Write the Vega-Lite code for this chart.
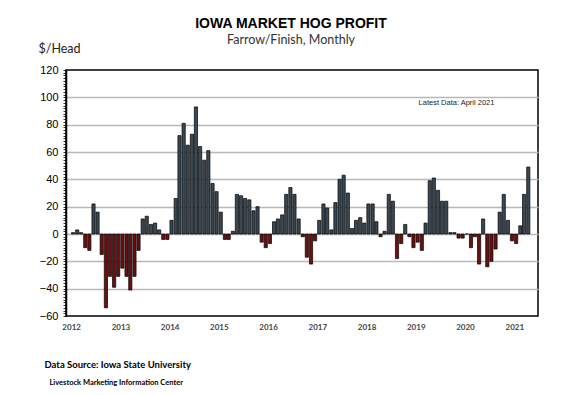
{
  "$schema": "https://vega.github.io/schema/vega-lite/v6.json",
  "width": 472,
  "height": 246,
  "autosize": "none",
  "padding": {"left": 66, "top": 70, "right": 50, "bottom": 79},
  "background": "white",
  "config": {
    "view": {"stroke": "black", "strokeWidth": 1.5},
    "font": "Liberation Sans"
  },
  "title": {
    "text": "IOWA MARKET HOG PROFIT",
    "subtitle": "Farrow/Finish, Monthly",
    "anchor": "middle",
    "dx": -11,
    "offset": -4,
    "font": "Liberation Sans",
    "fontSize": 14,
    "fontWeight": "bold",
    "color": "black",
    "subtitleFont": "Lato",
    "subtitleFontSize": 12.5,
    "subtitleColor": "#333333",
    "subtitlePadding": 3
  },
  "datasets": {
    "profit": [
      {"month": "2012-01-15", "profit": 1}, {"month": "2012-02-15", "profit": 3}, {"month": "2012-03-15", "profit": 1}, {"month": "2012-04-15", "profit": -10}, {"month": "2012-05-15", "profit": -12}, {"month": "2012-06-15", "profit": 22}, {"month": "2012-07-15", "profit": 16}, {"month": "2012-08-15", "profit": -15}, {"month": "2012-09-15", "profit": -54}, {"month": "2012-10-15", "profit": -31}, {"month": "2012-11-15", "profit": -39}, {"month": "2012-12-15", "profit": -31},
      {"month": "2013-01-15", "profit": -25}, {"month": "2013-02-15", "profit": -31}, {"month": "2013-03-15", "profit": -41}, {"month": "2013-04-15", "profit": -31}, {"month": "2013-05-15", "profit": -12}, {"month": "2013-06-15", "profit": 11}, {"month": "2013-07-15", "profit": 13}, {"month": "2013-08-15", "profit": 7}, {"month": "2013-09-15", "profit": 8}, {"month": "2013-10-15", "profit": 3}, {"month": "2013-11-15", "profit": -4}, {"month": "2013-12-15", "profit": -4},
      {"month": "2014-01-15", "profit": 10}, {"month": "2014-02-15", "profit": 26}, {"month": "2014-03-15", "profit": 72}, {"month": "2014-04-15", "profit": 81}, {"month": "2014-05-15", "profit": 65}, {"month": "2014-06-15", "profit": 73}, {"month": "2014-07-15", "profit": 93}, {"month": "2014-08-15", "profit": 64}, {"month": "2014-09-15", "profit": 54}, {"month": "2014-10-15", "profit": 61}, {"month": "2014-11-15", "profit": 37}, {"month": "2014-12-15", "profit": 31},
      {"month": "2015-01-15", "profit": 16}, {"month": "2015-02-15", "profit": -4}, {"month": "2015-03-15", "profit": -4}, {"month": "2015-04-15", "profit": 2}, {"month": "2015-05-15", "profit": 29}, {"month": "2015-06-15", "profit": 28}, {"month": "2015-07-15", "profit": 26}, {"month": "2015-08-15", "profit": 25}, {"month": "2015-09-15", "profit": 17}, {"month": "2015-10-15", "profit": 20}, {"month": "2015-11-15", "profit": -6}, {"month": "2015-12-15", "profit": -10},
      {"month": "2016-01-15", "profit": -7}, {"month": "2016-02-15", "profit": 9}, {"month": "2016-03-15", "profit": 11}, {"month": "2016-04-15", "profit": 14}, {"month": "2016-05-15", "profit": 29}, {"month": "2016-06-15", "profit": 34}, {"month": "2016-07-15", "profit": 29}, {"month": "2016-08-15", "profit": 11}, {"month": "2016-09-15", "profit": -2}, {"month": "2016-10-15", "profit": -17}, {"month": "2016-11-15", "profit": -22}, {"month": "2016-12-15", "profit": -5},
      {"month": "2017-01-15", "profit": 10}, {"month": "2017-02-15", "profit": 22}, {"month": "2017-03-15", "profit": 19}, {"month": "2017-04-15", "profit": 3}, {"month": "2017-05-15", "profit": 23}, {"month": "2017-06-15", "profit": 40}, {"month": "2017-07-15", "profit": 43}, {"month": "2017-08-15", "profit": 30}, {"month": "2017-09-15", "profit": 4}, {"month": "2017-10-15", "profit": 10}, {"month": "2017-11-15", "profit": 12}, {"month": "2017-12-15", "profit": 8},
      {"month": "2018-01-15", "profit": 22}, {"month": "2018-02-15", "profit": 22}, {"month": "2018-03-15", "profit": 9}, {"month": "2018-04-15", "profit": -2}, {"month": "2018-05-15", "profit": 2}, {"month": "2018-06-15", "profit": 29}, {"month": "2018-07-15", "profit": 24}, {"month": "2018-08-15", "profit": -18}, {"month": "2018-09-15", "profit": -7}, {"month": "2018-10-15", "profit": 7}, {"month": "2018-11-15", "profit": -2}, {"month": "2018-12-15", "profit": -10},
      {"month": "2019-01-15", "profit": -6}, {"month": "2019-02-15", "profit": -12}, {"month": "2019-03-15", "profit": 8}, {"month": "2019-04-15", "profit": 39}, {"month": "2019-05-15", "profit": 41}, {"month": "2019-06-15", "profit": 32}, {"month": "2019-07-15", "profit": 24}, {"month": "2019-08-15", "profit": 24}, {"month": "2019-09-15", "profit": 1}, {"month": "2019-10-15", "profit": 1}, {"month": "2019-11-15", "profit": -3}, {"month": "2019-12-15", "profit": -3},
      {"month": "2020-01-15", "profit": 0}, {"month": "2020-02-15", "profit": -10}, {"month": "2020-03-15", "profit": -2}, {"month": "2020-04-15", "profit": -22}, {"month": "2020-05-15", "profit": 11}, {"month": "2020-06-15", "profit": -24}, {"month": "2020-07-15", "profit": -20}, {"month": "2020-08-15", "profit": -11}, {"month": "2020-09-15", "profit": 16}, {"month": "2020-10-15", "profit": 29}, {"month": "2020-11-15", "profit": 10}, {"month": "2020-12-15", "profit": -5},
      {"month": "2021-01-15", "profit": -7}, {"month": "2021-02-15", "profit": 6}, {"month": "2021-03-15", "profit": 29}, {"month": "2021-04-15", "profit": 49}
    ]
  },
  "layer": [
    {
      "data": {"name": "profit"},
      "mark": {"type": "bar", "width": 3.2, "stroke": "black", "strokeWidth": 0.7},
      "encoding": {
        "x": {
          "field": "month",
          "type": "temporal",
          "scale": {"type": "utc", "domain": ["2011-12-31", "2021-05-20"]},
          "axis": {
            "title": "Data Source:  Iowa State University",
            "titleFont": "Lato",
            "titleFontSize": 9.5,
            "titleFontWeight": "bold",
            "titleColor": "black",
            "titleAlign": "left",
            "titleAnchor": "start",
            "titleBaseline": "middle",
            "titleX": -22,
            "titleY": 48,
            "tickCount": {"interval": "year", "step": 1},
            "format": "%Y",
            "labelFlush": false,
            "labelFontSize": 8,
            "labelFont": "Lato",
            "labelFontWeight": "bold",
            "labelColor": "#444444",
            "labelPadding": 7,
            "ticks": false,
            "domain": false,
            "grid": false
          }
        },
        "y": {
          "field": "profit",
          "type": "quantitative",
          "scale": {"domain": [-60, 120], "nice": false, "zero": false},
          "axis": {
            "values": [-60,-58,-56,-54,-52,-50,-48,-46,-44,-42,-40,-38,-36,-34,-32,-30,-28,-26,-24,-22,-20,-18,-16,-14,-12,-10,-8,-6,-4,-2,0,2,4,6,8,10,12,14,16,18,20,22,24,26,28,30,32,34,36,38,40,42,44,46,48,50,52,54,56,58,60,62,64,66,68,70,72,74,76,78,80,82,84,86,88,90,92,94,96,98,100,102,104,106,108,110,112,114,116,118,120],
            "tickCount": 500,
            "format": "d",
            "labelExpr": "datum.value % 20 === 0 ? datum.label : ''",
            "labelOverlap": false,
            "labelFontSize": 11,
            "labelColor": "black",
            "labelPadding": 5,
            "grid": true,
            "gridColor": "#b8b8b8",
            "gridWidth": 1.5,
            "gridOpacity": {"condition": {"test": "datum.value % 20 === 0 && datum.value > -60 && datum.value < 120", "value": 1}, "value": 0},
            "tickSize": 3,
            "tickColor": "black",
            "tickWidth": 0.8,
            "domainColor": "black",
            "domainWidth": 1.5,
            "title": "$/Head",
            "titleFont": "Lato",
            "titleFontSize": 12.5,
            "titleFontWeight": "normal",
            "titleColor": "#222222",
            "titleAngle": 0,
            "titleAlign": "left",
            "titleBaseline": "middle",
            "titleX": -28,
            "titleY": -22
          }
        },
        "color": {"condition": {"test": "datum.profit < 0", "value": "#6b1012"}, "value": "#3b4852"}
      }
    },
    {
      "data": {"values": [{"label": "Latest Data:   April 2021", "month": "2019-01-22", "profit": 96}]},
      "mark": {"type": "text", "font": "Liberation Sans", "fontSize": 7.5, "align": "left", "baseline": "middle", "color": "#222222"},
      "encoding": {
        "x": {"field": "month", "type": "temporal"},
        "y": {"field": "profit", "type": "quantitative"},
        "text": {"field": "label"}
      }
    },
    {
      "data": {"values": [{"label": "Livestock Marketing Information Center", "month": "2011-07-24", "profit": -60}]},
      "mark": {"type": "text", "font": "Lato", "fontSize": 7.5, "fontWeight": "bold", "align": "left", "baseline": "middle", "dy": 67, "color": "black", "clip": false},
      "encoding": {
        "x": {"field": "month", "type": "temporal"},
        "y": {"field": "profit", "type": "quantitative"},
        "text": {"field": "label"}
      }
    }
  ]
}
